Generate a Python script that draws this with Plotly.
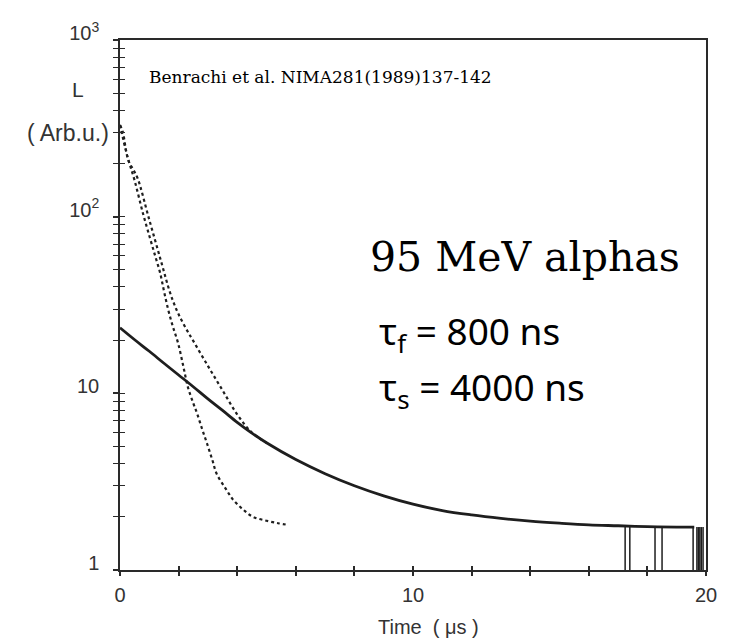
import plotly.graph_objects as go

# ---------------- data ----------------
# slow component fit (solid line), time in microseconds
slow_t = [0, 0.5, 1, 1.5, 2, 2.5, 3, 3.5, 4, 4.5, 5, 6, 7, 8, 9, 10, 11, 12, 13, 14, 15, 16, 17, 18, 19, 19.6]
slow_L = [23.5, 20.1, 17.3, 14.8, 12.7, 10.9, 9.3, 8.0, 6.85, 5.96, 5.25, 4.22, 3.51, 3.0, 2.63, 2.36, 2.17, 2.05, 1.96, 1.89, 1.84, 1.8, 1.78, 1.76, 1.75, 1.75]

# measured light output (dotted, upper)
data_t = [0.0, 0.1, 0.2, 0.3, 0.45, 0.6, 1.0, 1.4, 1.7, 1.85, 2.0, 2.25, 2.5, 3.0, 3.5, 4.0, 4.5, 5.0]
data_L = [330, 300, 240, 205, 185, 165, 96, 56, 37.5, 32, 28, 23.3, 19.8, 14.3, 10.4, 7.6, 6.0, 5.25]

# fast component (dotted, lower)
fast_t = [0.0, 0.25, 0.5, 0.78, 1.02, 1.2, 1.37, 1.5, 1.64, 1.8, 1.98, 2.15, 2.32, 2.5, 2.63, 2.8, 2.97, 3.15, 3.3, 3.6, 3.86, 4.2, 4.54, 5.0, 5.4, 5.73]
fast_L = [330, 220, 160, 105, 76, 60, 48, 38, 30, 24, 19.3, 14.5, 10.8, 8.8, 7.7, 6.3, 5.2, 4.2, 3.5, 2.9, 2.5, 2.2, 2.0, 1.9, 1.84, 1.8]

# vertical lines at the tail
vline_t = [17.24, 17.4, 18.26, 18.5, 19.56, 19.69, 19.74, 19.79, 19.84, 19.9]
vline_top = [1.75] * len(vline_t)
baseline = 1.0

# axis ticks
y_tickvals = [1, 10, 100, 1000]
y_ticktext = ["1", "10", "10<sup>2</sup>", "10<sup>3</sup>"]
y_minor = [m * 10 ** d for d in range(3) for m in range(2, 10)]
x_tickvals = [0, 10, 20]
x_ticktext = ["0", "10", "20"]
x_minor = [2, 4, 6, 8, 12, 14, 16, 18]

INK = "#1e1e1e"
AX = "#2a2a2a"

fig = go.Figure()

fig.add_trace(go.Scatter(x=fast_t, y=fast_L, mode="lines", line_shape="spline",
                         line=dict(color=INK, width=2.2, dash="dot"), showlegend=False))
fig.add_trace(go.Scatter(x=data_t, y=data_L, mode="lines", line_shape="spline",
                         line=dict(color=INK, width=2.2, dash="dot"), showlegend=False))
fig.add_trace(go.Scatter(x=slow_t, y=slow_L, mode="lines", line_shape="spline",
                         line=dict(color=INK, width=2.8), showlegend=False))

vx, vy = [], []
for t, top in zip(vline_t, vline_top):
    vx += [t, t, None]
    vy += [baseline, top, None]
fig.add_trace(go.Scatter(x=vx, y=vy, mode="lines",
                         line=dict(color=INK, width=1.5), showlegend=False))

# invisible trace for overlay axes (to produce crossing ticks)
fig.add_trace(go.Scatter(x=[None], y=[None], xaxis="x2", yaxis="y2", showlegend=False))

tickfont = dict(family="Liberation Sans, Arial", size=20, color="#333")

fig.update_layout(
    width=736, height=639,
    margin=dict(l=120, r=30, t=40, b=69),
    paper_bgcolor="white", plot_bgcolor="white",
    xaxis=dict(range=[0, 20], showgrid=False, zeroline=False,
               showline=True, linecolor=AX, linewidth=1.5, mirror=True,
               tickvals=x_tickvals, ticktext=x_ticktext,
               ticks="outside", ticklen=4, tickcolor=AX, tickwidth=1.5,
               minor=dict(tickvals=x_minor, ticks="outside", ticklen=4, tickcolor=AX, tickwidth=1.5),
               tickfont=tickfont, ticklabelstandoff=2),
    yaxis=dict(type="log", range=[0, 3], showgrid=False, zeroline=False,
               showline=True, linecolor=AX, linewidth=1.5, mirror=True,
               tickvals=y_tickvals, ticktext=y_ticktext,
               ticks="outside", ticklen=5, tickcolor=AX, tickwidth=1.5,
               minor=dict(tickvals=y_minor, ticks="outside", ticklen=5, tickcolor=AX, tickwidth=1.2),
               tickfont=tickfont, ticklabelstandoff=10, ticklabelshift=-7),
    xaxis2=dict(range=[0, 20], overlaying="x", anchor="y2", showgrid=False, zeroline=False,
                tickvals=x_tickvals + x_minor, ticks="inside", ticklen=4, tickcolor=AX,
                tickwidth=1.5, showticklabels=False),
    yaxis2=dict(type="log", range=[0, 3], overlaying="y", anchor="x2", side="left",
                showgrid=False, zeroline=False,
                tickvals=y_tickvals + y_minor, ticks="inside", ticklen=5, tickcolor=AX,
                tickwidth=1.2, showticklabels=False),
)

def px(xp):
    return (xp - 120) / 586.0

def py(yp):
    return (570 - yp) / 530.0

ann = [
    dict(text="Benrachi et al. NIMA281(1989)137-142", x=px(147), y=py(77), xanchor="left", yanchor="middle",
         font=dict(family="DejaVu Serif", size=17, color="black")),
    dict(text="95 MeV alphas", x=px(368), y=py(257), xanchor="left", yanchor="middle",
         font=dict(family="DejaVu Serif", size=41, color="black")),
    dict(text="τ<sub>f</sub> = 800 ns", x=px(377), y=py(333), xanchor="left", yanchor="middle",
         font=dict(family="Noto Sans", size=37, color="black")),
    dict(text="τ<sub>s</sub> = 4000 ns", x=px(377), y=py(389), xanchor="left", yanchor="middle",
         font=dict(family="Noto Sans", size=37, color="black")),
    dict(text="L", x=px(78), y=py(90), xanchor="center", yanchor="middle",
         font=dict(family="Liberation Sans, Arial", size=21, color="#333")),
    dict(text="( Arb.u.)", x=px(68), y=py(133), xanchor="center", yanchor="middle",
         font=dict(family="Liberation Sans, Arial", size=23, color="#333")),
    dict(text="Time  ( μs )", x=px(428), y=py(627), xanchor="center", yanchor="middle",
         font=dict(family="Liberation Sans, Arial", size=20, color="#333")),
]
for a in ann:
    a.update(xref="paper", yref="paper", showarrow=False)
fig.update_layout(annotations=ann)

fig.write_html("out.html")
